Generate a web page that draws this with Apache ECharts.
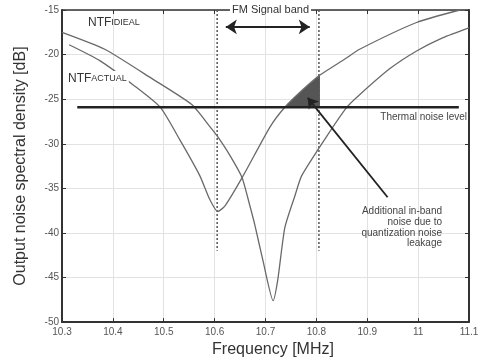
<!DOCTYPE html>
<html>
<head>
<meta charset="utf-8">
<script src="https://cdn.jsdelivr.net/npm/echarts@6/dist/echarts.min.js"></script>
<style>
  html, body { margin: 0; padding: 0; background: #fff; }
  #chart { width: 487px; height: 363px; }
</style>
</head>
<body>
<div id="chart"></div>
<script>
// --- DATA ---
const freqIdeal = [10.30, 10.384, 10.477, 10.555, 10.591, 10.606, 10.63, 10.654, 10.669, 10.679, 10.695, 10.715, 10.724, 10.738, 10.758, 10.771, 10.82, 10.86, 10.885, 10.944, 10.997, 11.049, 11.10];
const ntfIdeal  = [-17.5, -19.4, -22.7, -25.6, -28.1, -29.2, -31.3, -33.8, -36.9, -39.1, -43.1, -47.6, -45.3, -39.4, -35.8, -33.6, -29.2, -25.9, -24.5, -21.6, -19.6, -18.1, -17.0];

const freqActual = [10.314, 10.375, 10.44, 10.493, 10.532, 10.571, 10.59, 10.606, 10.62, 10.654, 10.709, 10.738, 10.772, 10.807, 10.856, 10.885, 10.997, 11.082];
const ntfActual  = [-18.9, -20.7, -23.4, -25.9, -29.6, -33.6, -36.2, -37.6, -37.0, -33.8, -28.1, -25.9, -24.0, -22.3, -20.5, -19.4, -16.4, -15.0];

// leakage area (NTF actual above thermal floor inside the band)
const leakFreq = [10.738, 10.772, 10.807];
const leakNtf  = [-25.9, -24.0, -22.3];

const thermalLevel = -25.9;
const thermalSpan = [10.33, 11.08];
const bandEdges = [10.605, 10.805];
const bandMarkBottom = -42;
const bandArrow = [10.622, 10.787, -16.9];
const leakArrow = [[10.94, -36.0], [10.783, -24.85]];

const zip = (a, b) => a.map((v, i) => [v, b[i]]);

const FONT = '"Liberation Sans", Arial, sans-serif';
const curveColor = '#6a6a6a';

const chart = echarts.init(document.getElementById('chart'));

chart.setOption({
    animation: false,
    backgroundColor: '#fff',
    grid: { left: 62, right: 18, top: 10, bottom: 33, show: false },
    xAxis: [{
        type: 'value', min: 10.3, max: 11.1, interval: 0.1,
        name: 'Frequency [MHz]', nameLocation: 'middle', nameGap: 17,
        nameTextStyle: { fontFamily: FONT, fontSize: 16, color: '#333', padding: [0, 0, 0, 15] },
        axisLine: { lineStyle: { color: '#333', width: 2 } },
        axisTick: { inside: true, length: 4, lineStyle: { color: '#333' } },
        axisLabel: { fontFamily: FONT, fontSize: 10, color: '#555', margin: 5,
            formatter: v => String(Number(v.toFixed(1))) },
        splitLine: { lineStyle: { color: '#e2e2e2', width: 1 } }
    }, {
        type: 'value', min: 10.3, max: 11.1, interval: 0.1, position: 'top',
        axisLine: { show: true, lineStyle: { color: '#333', width: 1.5 } },
        axisTick: { inside: true, length: 4, lineStyle: { color: '#333' } },
        axisLabel: { show: false }, splitLine: { show: false }
    }],
    yAxis: [{
        type: 'value', min: -50, max: -15, interval: 5,
        name: 'Output noise spectral density [dB]', nameLocation: 'middle', nameGap: 33,
        nameTextStyle: { fontFamily: FONT, fontSize: 16, color: '#333' },
        axisLine: { show: true, lineStyle: { color: '#333', width: 2 } },
        axisTick: { show: true, inside: true, length: 4, lineStyle: { color: '#333' } },
        axisLabel: { fontFamily: FONT, fontSize: 10, color: '#555', margin: 3 },
        splitLine: { lineStyle: { color: '#e2e2e2', width: 1 } }
    }, {
        type: 'value', min: -50, max: -15, interval: 5, position: 'right',
        axisLine: { show: true, lineStyle: { color: '#333', width: 2 } },
        axisTick: { show: true, inside: true, length: 4, lineStyle: { color: '#333' } },
        axisLabel: { show: false }, splitLine: { show: false }
    }],
    series: [
        {
            name: 'leak', type: 'line', data: zip(leakFreq, leakNtf),
            showSymbol: false, lineStyle: { width: 0 },
            areaStyle: { origin: thermalLevel, color: '#555', opacity: 1 }, z: 1
        },
        {
            name: 'NTF ideal', type: 'line', data: zip(freqIdeal, ntfIdeal),
            showSymbol: false, smooth: 0.2, lineStyle: { color: curveColor, width: 1.3 }, z: 3
        },
        {
            name: 'NTF actual', type: 'line', data: zip(freqActual, ntfActual),
            showSymbol: false, smooth: 0.2, lineStyle: { color: curveColor, width: 1.3 }, z: 3
        },
        {
            name: 'band low', type: 'line', data: [[bandEdges[0], -15], [bandEdges[0], bandMarkBottom]],
            showSymbol: false, lineStyle: { color: '#555', width: 1.5, type: [2, 2] }, z: 2
        },
        {
            name: 'band high', type: 'line', data: [[bandEdges[1], -15], [bandEdges[1], bandMarkBottom]],
            showSymbol: false, lineStyle: { color: '#555', width: 1.5, type: [2, 2] }, z: 2
        },
        {
            name: 'thermal', type: 'line', data: [[thermalSpan[0], thermalLevel], [thermalSpan[1], thermalLevel]],
            showSymbol: false, lineStyle: { color: '#222', width: 2.5 }, z: 4,
            markLine: {
                silent: true, label: { show: false }, animation: false,
                data: [
                    [{ coord: [bandArrow[0], bandArrow[2]], symbol: 'arrow', symbolSize: 11 },
                     { coord: [bandArrow[1], bandArrow[2]], symbol: 'arrow', symbolSize: 11 }],
                    [{ coord: leakArrow[0], symbol: 'none' },
                     { coord: leakArrow[1], symbol: 'arrow', symbolSize: 10 }]
                ],
                lineStyle: { color: '#222', width: 1.8, type: 'solid' }
            }
        }
    ],
    graphic: [
        { type: 'text', left: 230, top: 4, z: 100,
          style: { text: 'FM Signal band', font: '11px ' + FONT, fill: '#333', backgroundColor: '#fff', padding: [0, 2] } },
        { type: 'text', left: 88, top: 17, z: 100,
          style: { text: '{a|NTF}{b|IDIEAL}', fill: '#333',
            rich: { a: { fontFamily: FONT, fontSize: 12, fill: '#333' }, b: { fontFamily: FONT, fontSize: 9, fill: '#333' } } } },
        { type: 'text', left: 66, top: 71, z: 100,
          style: { text: '{a|NTF}{b|ACTUAL}', fill: '#333', backgroundColor: '#fff', padding: [2, 2],
            rich: { a: { fontFamily: FONT, fontSize: 12, fill: '#333' }, b: { fontFamily: FONT, fontSize: 9, fill: '#333' } } } },
        { type: 'text', right: 20, top: 112, z: 100,
          style: { text: 'Thermal noise level', font: '10px ' + FONT, fill: '#444' } },
        { type: 'text', x: 442, y: 206, z: 100,
          style: { text: 'Additional in-band\nnoise due to\nquantization noise\nleakage', font: '10px ' + FONT,
            fill: '#444', align: 'right', verticalAlign: 'top', lineHeight: 10.7 } }
    ]
});
</script>
</body>
</html>
